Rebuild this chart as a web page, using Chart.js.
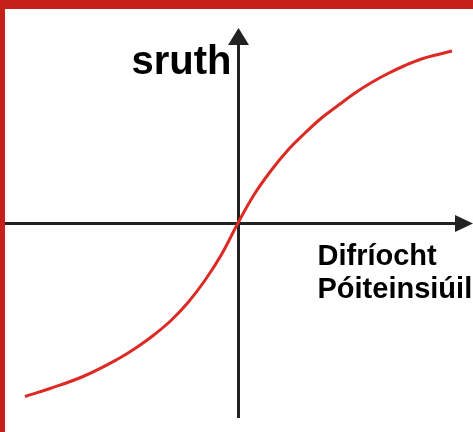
<!DOCTYPE html>
<html>
<head>
<meta charset="utf-8">
<script src="https://cdn.jsdelivr.net/npm/chart.js@4/dist/chart.umd.min.js"></script>
<style>
  html, body { margin: 0; padding: 0; background: #fff; }
  #wrap { position: relative; width: 473px; height: 432px; overflow: hidden; background: #fff; }
  #chart { position: absolute; left: 0; top: 0; }
  #frame {
    position: absolute; left: 0; top: 0; width: 473px; height: 432px; box-sizing: border-box;
    border-top: 9px solid #c6201a; border-left: 5px solid #c6201a; pointer-events: none;
  }
</style>
</head>
<body>
<div id="wrap">
  <canvas id="chart" width="473" height="432"></canvas>
  <div id="frame"></div>
</div>
<script>
// curve (arbitrary units, axes cross at 0,0)
const curveX = [-4.26, -3.76, -3.10, -2.42, -2.0, -1.67, -1.33, -1.0, -0.67, -0.33, 0,
                0.33, 0.67, 1.0, 1.33, 1.67, 2.0, 2.34, 2.67, 3.0, 3.34, 3.67, 4.0, 4.28];
const curveY = [-3.47, -3.31, -3.07, -2.73, -2.47, -2.23, -1.94, -1.59, -1.16, -0.63, 0,
                0.58, 1.06, 1.46, 1.79, 2.10, 2.35, 2.60, 2.81, 2.99, 3.15, 3.28, 3.37, 3.44];

// axis labels
const yLabel = 'sruth';
const xLabel = ['Difríocht', 'Póiteinsiúil'];

const points = curveX.map((x, i) => ({ x: x, y: curveY[i] }));

// draws the two crossing axes with arrow heads, plus the labels
const axesPlugin = {
  id: 'axes',
  beforeDatasetsDraw(chart) {
    const { ctx, chartArea, scales } = chart;
    const x0 = Math.round(scales.x.getPixelForValue(0)) + 0.5;
    const y0 = Math.round(scales.y.getPixelForValue(0)) + 0.5;
    ctx.save();
    ctx.strokeStyle = '#222';
    ctx.fillStyle = '#222';
    ctx.lineWidth = 3;

    // x axis
    ctx.beginPath();
    ctx.moveTo(chartArea.left, y0);
    ctx.lineTo(chartArea.right - 16, y0);
    ctx.stroke();
    ctx.beginPath();
    ctx.moveTo(chartArea.right, y0);
    ctx.lineTo(chartArea.right - 18, y0 - 8.5);
    ctx.lineTo(chartArea.right - 18, y0 + 8.5);
    ctx.closePath();
    ctx.fill();

    // y axis
    ctx.beginPath();
    ctx.moveTo(x0, chartArea.bottom);
    ctx.lineTo(x0, chartArea.top + 15);
    ctx.stroke();
    ctx.beginPath();
    ctx.moveTo(x0, chartArea.top);
    ctx.lineTo(x0 - 10.5, chartArea.top + 17);
    ctx.lineTo(x0 + 10.5, chartArea.top + 17);
    ctx.closePath();
    ctx.fill();

    // labels
    ctx.fillStyle = '#000';
    ctx.textBaseline = 'alphabetic';
    ctx.font = 'bold 40px "Liberation Sans", Arial, sans-serif';
    ctx.textAlign = 'right';
    ctx.fillText(yLabel, x0 - 7, 74);
    ctx.font = 'bold 29px "Liberation Sans", Arial, sans-serif';
    ctx.textAlign = 'left';
    ctx.fillText(xLabel[0], x0 + 79, 265);
    ctx.fillText(xLabel[1], x0 + 79, 298);
    ctx.restore();
  }
};

new Chart(document.getElementById('chart'), {
  type: 'scatter',
  data: {
    datasets: [{
      data: points,
      showLine: true,
      borderColor: '#dc2a24',
      borderWidth: 3,
      pointRadius: 0,
      tension: 0.4,
      fill: false
    }]
  },
  options: {
    responsive: false,
    animation: false,
    layout: { padding: { left: 5, right: 0, top: 28, bottom: 14 } },
    plugins: { legend: { display: false }, tooltip: { enabled: false } },
    scales: {
      x: { type: 'linear', display: false, min: -4.66, max: 4.7 },
      y: { type: 'linear', display: false, min: -3.9, max: 3.9 }
    }
  },
  plugins: [axesPlugin]
});
</script>
</body>
</html>
